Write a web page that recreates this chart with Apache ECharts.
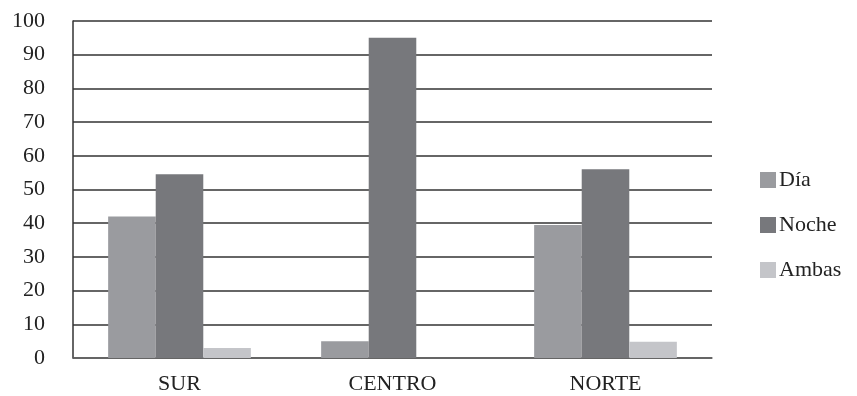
<!DOCTYPE html>
<html>
<head>
<meta charset="utf-8">
<script src="https://cdn.jsdelivr.net/npm/echarts@6/dist/echarts.min.js"></script>
<style>
  html, body { margin: 0; padding: 0; background: #fff; }
  #chart { width: 857px; height: 396px; }
</style>
</head>
<body>
<div id="chart"></div>
<script>
// Chart data
const categories = ['SUR', 'CENTRO', 'NORTE'];
const diaValues = [42, 5, 39.5];
const nocheValues = [54.5, 95, 56];
const ambasValues = [3, 0, 4.8];
const yTicks = [0, 10, 20, 30, 40, 50, 60, 70, 80, 90, 100];

const serif = '"Liberation Serif", "DejaVu Serif", serif';

function initChart() {
    const chartDom = document.getElementById('chart');
    const myChart = echarts.init(chartDom);

    const option = {
        animation: false,
        textStyle: { fontFamily: serif },
        grid: {
            left: 73,
            right: 145,
            top: 21,
            bottom: 38
        },
        legend: {
            orient: 'vertical',
            left: 755,
            top: 164,
            itemWidth: 16,
            itemHeight: 16,
            itemGap: 23,
            icon: 'rect',
            textStyle: { fontFamily: serif, fontSize: 22, color: '#222', padding: [0, 0, 0, -2] },
            data: ['Día', 'Noche', 'Ambas']
        },
        xAxis: {
            type: 'category',
            data: categories,
            axisTick: { show: false },
            axisLine: { lineStyle: { color: '#666', width: 1.5 } },
            axisLabel: { fontFamily: serif, fontSize: 22, color: '#222', margin: 15 }
        },
        yAxis: {
            type: 'value',
            min: yTicks[0],
            max: yTicks[yTicks.length - 1],
            interval: 10,
            axisLine: { show: true, lineStyle: { color: '#333', width: 1.5 } },
            axisTick: { show: false },
            splitLine: { lineStyle: { color: '#333', width: 1.5 } },
            axisLabel: { fontFamily: serif, fontSize: 22, color: '#222', margin: 28 }
        },
        series: [
            {
                name: 'Día',
                type: 'bar',
                data: diaValues,
                barGap: '0%',
                barCategoryGap: '33%',
                itemStyle: { color: '#9a9b9f' }
            },
            {
                name: 'Noche',
                type: 'bar',
                data: nocheValues,
                itemStyle: { color: '#77787c' }
            },
            {
                name: 'Ambas',
                type: 'bar',
                data: ambasValues,
                itemStyle: { color: '#c4c5c9' }
            }
        ]
    };

    myChart.setOption(option);
}

document.addEventListener('DOMContentLoaded', initChart);
</script>
</body>
</html>
